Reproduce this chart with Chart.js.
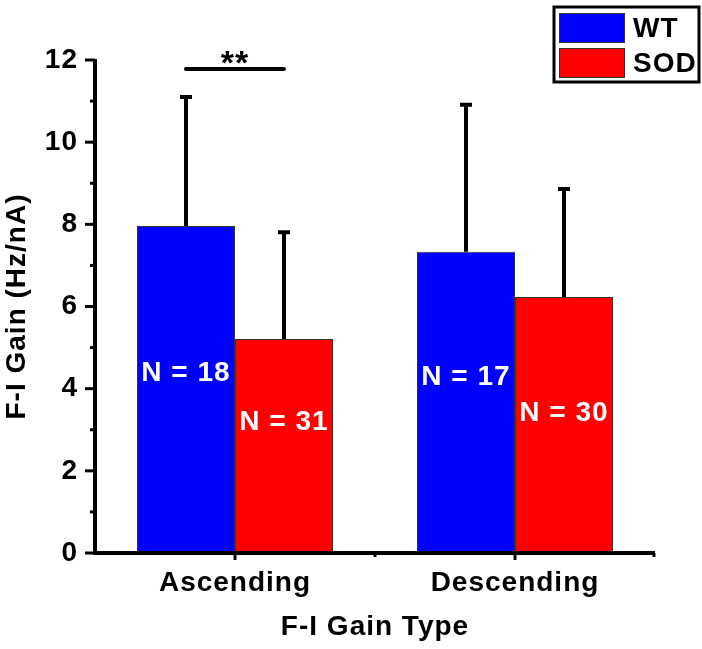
<!DOCTYPE html>
<html>
<head>
<meta charset="utf-8">
<script src="https://cdn.jsdelivr.net/npm/chart.js@4.4.1/dist/chart.umd.min.js"></script>
<style>
  html, body { margin: 0; padding: 0; background: #fff; }
  #wrap { width: 702px; height: 649px; }
</style>
</head>
<body>
<div id="wrap"><canvas id="myChart"></canvas></div>
<script>
const categories = ["Ascending", "Descending"];
const seriesNames = ["WT", "SOD"];
const wtMean = [7.96, 7.33];
const sodMean = [5.21, 6.23];
const wtSD = [3.14, 3.58];
const sodSD = [2.6, 2.63];
const wtN = [18, 17];
const sodN = [31, 30];
const yTicks = [0, 2, 4, 6, 8, 10, 12];

const FONT = "'Liberation Sans', Arial, sans-serif";
const ctx = document.getElementById("myChart");

// height (in y units) of the "N = " text inside each bar
const nLabelY = [[4.37, 4.27], [3.18, 3.41]];
const sigLevel = 11.78;

const spacing = {
  id: "spacing",
  beforeDraw(chart) {
    chart.ctx.letterSpacing = "1px";
  }
};

const errorBars = {
  id: "errorBars",
  afterDatasetsDraw(chart) {
    const c = chart.ctx;
    const y = chart.scales.y;
    c.save();
    c.strokeStyle = "#000";
    c.lineWidth = 4;
    chart.data.datasets.forEach((ds, i) => {
      chart.getDatasetMeta(i).data.forEach((bar, j) => {
        const top = y.getPixelForValue(ds.data[j] + ds.sd[j]);
        c.beginPath();
        c.moveTo(bar.x, bar.y);
        c.lineTo(bar.x, top);
        c.moveTo(bar.x - 6, top);
        c.lineTo(bar.x + 6, top);
        c.stroke();
      });
    });

    // N = labels
    c.fillStyle = "#fff";
    c.font = "bold 28px " + FONT;
    c.textAlign = "center";
    c.textBaseline = "middle";
    chart.data.datasets.forEach((ds, i) => {
      chart.getDatasetMeta(i).data.forEach((bar, j) => {
        c.fillText("N = " + ds.n[j], bar.x, y.getPixelForValue(nLabelY[i][j]));
      });
    });

    // significance bar over Ascending
    const b0 = chart.getDatasetMeta(0).data[0];
    const b1 = chart.getDatasetMeta(1).data[0];
    const sy = y.getPixelForValue(sigLevel);
    c.lineCap = "round";
    c.beginPath();
    c.moveTo(b0.x, sy);
    c.lineTo(b1.x, sy);
    c.stroke();
    c.fillStyle = "#000";
    c.textBaseline = "alphabetic";
    c.font = "bold 34px " + FONT;
    c.fillText("**", (b0.x + b1.x) / 2, sy + 5);
    c.restore();
  }
};

const axesLines = {
  id: "axesLines",
  afterDraw(chart) {
    const c = chart.ctx;
    const { left, right, top, bottom } = chart.chartArea;
    const y = chart.scales.y;
    const x = chart.scales.x;
    c.save();
    c.strokeStyle = "#000";
    c.lineWidth = 4;
    c.beginPath();
    c.moveTo(left, top - 1);
    c.lineTo(left, bottom);
    c.moveTo(left - 2, bottom);
    c.lineTo(right, bottom);
    c.stroke();

    c.lineWidth = 3;
    for (let v = 0; v <= 12; v++) {
      const py = y.getPixelForValue(v);
      const len = v % 2 === 0 ? 10 : 5;
      c.beginPath();
      c.moveTo(left - len, py);
      c.lineTo(left, py);
      c.stroke();
    }
    categories.forEach((cat, i) => {
      const px = x.getPixelForValue(i);
      c.beginPath();
      c.moveTo(px, bottom);
      c.lineTo(px, bottom + 7);
      c.stroke();
    });
    [(left + right) / 2, right - 1].forEach(px => {
      c.beginPath();
      c.moveTo(px, bottom);
      c.lineTo(px, bottom + 4);
      c.stroke();
    });

    // legend box
    c.lineWidth = 3;
    c.strokeRect(554, 7, 145, 75);
    c.font = "bold 28px " + FONT;
    c.textAlign = "left";
    c.textBaseline = "middle";
    chart.data.datasets.forEach((ds, i) => {
      const sy = 13 + i * 35;
      c.fillStyle = ds.backgroundColor;
      c.fillRect(559, sy, 66, 30);
      c.lineWidth = 1;
      c.strokeStyle = "#333";
      c.strokeRect(559.5, sy + 0.5, 65, 29);
      c.fillStyle = "#000";
      c.fillText(ds.label, 633, sy + 16);
    });
    c.restore();
  }
};

new Chart(ctx, {
  type: "bar",
  data: {
    labels: categories,
    datasets: [
      { label: seriesNames[0], data: wtMean, sd: wtSD, n: wtN, backgroundColor: "#0000ff", borderColor: "#333", borderWidth: 1 },
      { label: seriesNames[1], data: sodMean, sd: sodSD, n: sodN, backgroundColor: "#ff0000", borderColor: "#333", borderWidth: 1 }
    ]
  },
  options: {
    responsive: true,
    maintainAspectRatio: false,
    animation: false,
    layout: { padding: { top: 60, right: 47, left: 0, bottom: 0 } },
    plugins: { legend: { display: false }, tooltip: { enabled: false } },
    datasets: { bar: { categoryPercentage: 0.7, barPercentage: 1 } },
    scales: {
      x: {
        afterFit(s) { s.height = 96; },
        grid: { display: true, drawOnChartArea: false, color: "rgba(0,0,0,0)", tickLength: 9 },
        border: { display: false },
        ticks: { color: "#000", padding: 4, font: { family: FONT, size: 28, weight: "bold" } },
        title: {
          display: true, text: "F-I Gain Type", color: "#000",
          padding: { top: 0, bottom: 5 },
          font: { family: FONT, size: 28, weight: "bold" }
        }
      },
      y: {
        min: 0, max: 12,
        afterFit(s) { s.width = 95; },
        afterBuildTicks(s) { s.ticks = yTicks.map(v => ({ value: v })); },
        grid: { display: true, drawOnChartArea: false, color: "rgba(0,0,0,0)", tickLength: 9 },
        border: { display: false },
        ticks: { color: "#000", padding: 8, font: { family: FONT, size: 28, weight: "bold" } },
        title: {
          display: true, text: "F-I Gain (Hz/nA)", color: "#000",
          padding: { top: 0, bottom: 11 },
          font: { family: FONT, size: 28, weight: "bold" }
        }
      }
    }
  },
  plugins: [spacing, errorBars, axesLines]
});
</script>
</body>
</html>
